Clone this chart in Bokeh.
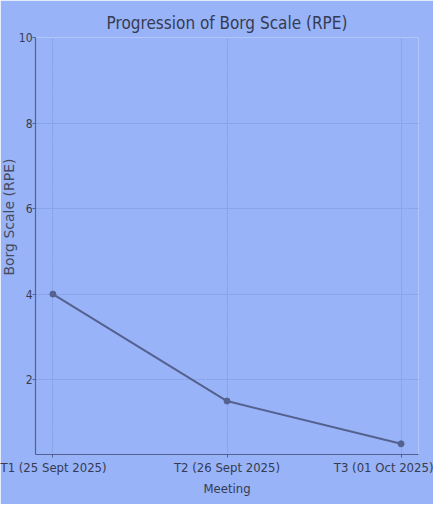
from bokeh.plotting import figure
from bokeh.models import Range1d, FixedTicker, Title
from bokeh.embed import file_html
from bokeh.resources import INLINE

meetings = ["T1 (25 Sept 2025)", "T2 (26 Sept 2025)", "T3 (01 Oct 2025)"]
rpe = [4, 1.5, 0.5]
y_ticks = [2, 4, 6, 8, 10]

xs = list(range(len(meetings)))

BG = "#98b3f7"
INK = "#363b52"
LINE = "#55618e"
NARROW = "DejaVu Sans Condensed, Liberation Sans Narrow, Roboto Condensed, Liberation Sans, sans-serif"

p = figure(width=433, height=504, output_backend="svg", toolbar_location=None,
           x_range=Range1d(-0.1, 2.1), y_range=Range1d(0.25, 10),
           title="Progression of Borg Scale (RPE)",
           min_border_left=29, min_border_right=15, min_border_top=37, min_border_bottom=50)

p.background_fill_color = BG
p.border_fill_color = BG
p.outline_line_color = None

p.title.align = "center"
p.title.text_font = NARROW
p.title.text_font_size = "17px"
p.title.text_font_style = "normal"
p.title.text_color = INK

p.line(xs, rpe, line_color=LINE, line_width=2)
p.scatter(xs, rpe, size=6, fill_color=LINE, line_color=LINE)

p.xaxis.ticker = FixedTicker(ticks=xs)
p.xaxis.major_label_overrides = {i: m for i, m in enumerate(meetings)}
p.yaxis.ticker = FixedTicker(ticks=y_ticks)

p.xaxis.axis_label = "Meeting"

for ax in (p.xaxis, p.yaxis):
    ax.axis_line_color = LINE
    ax.axis_line_width = 1.2
    ax.major_tick_line_color = LINE
    ax.major_tick_out = 3
    ax.major_tick_in = 0
    ax.minor_tick_line_color = None
    ax.major_label_text_font = NARROW
    ax.major_label_text_font_size = "13px"
    ax.major_label_text_color = INK
    ax.major_label_standoff = 2
    ax.axis_label_standoff = 3

p.yaxis.major_label_standoff = 0
p.yaxis.major_label_text_font_size = "12px"

p.xaxis.axis_label_text_font = NARROW
p.xaxis.axis_label_text_font_size = "13px"
p.xaxis.axis_label_text_font_style = "normal"
p.xaxis.axis_label_text_color = INK

ytitle = Title(text="Borg Scale (RPE)", align="right", offset=121, standoff=-3,
               text_font="DejaVu Sans", text_font_size="14px",
               text_font_style="normal", text_color="#464b62")
p.add_layout(ytitle, "left")

p.grid.grid_line_color = "#859ee2"
p.grid.grid_line_dash = "2 1"
p.grid.grid_line_width = 1

open("out.html", "w").write(file_html(p, INLINE))
